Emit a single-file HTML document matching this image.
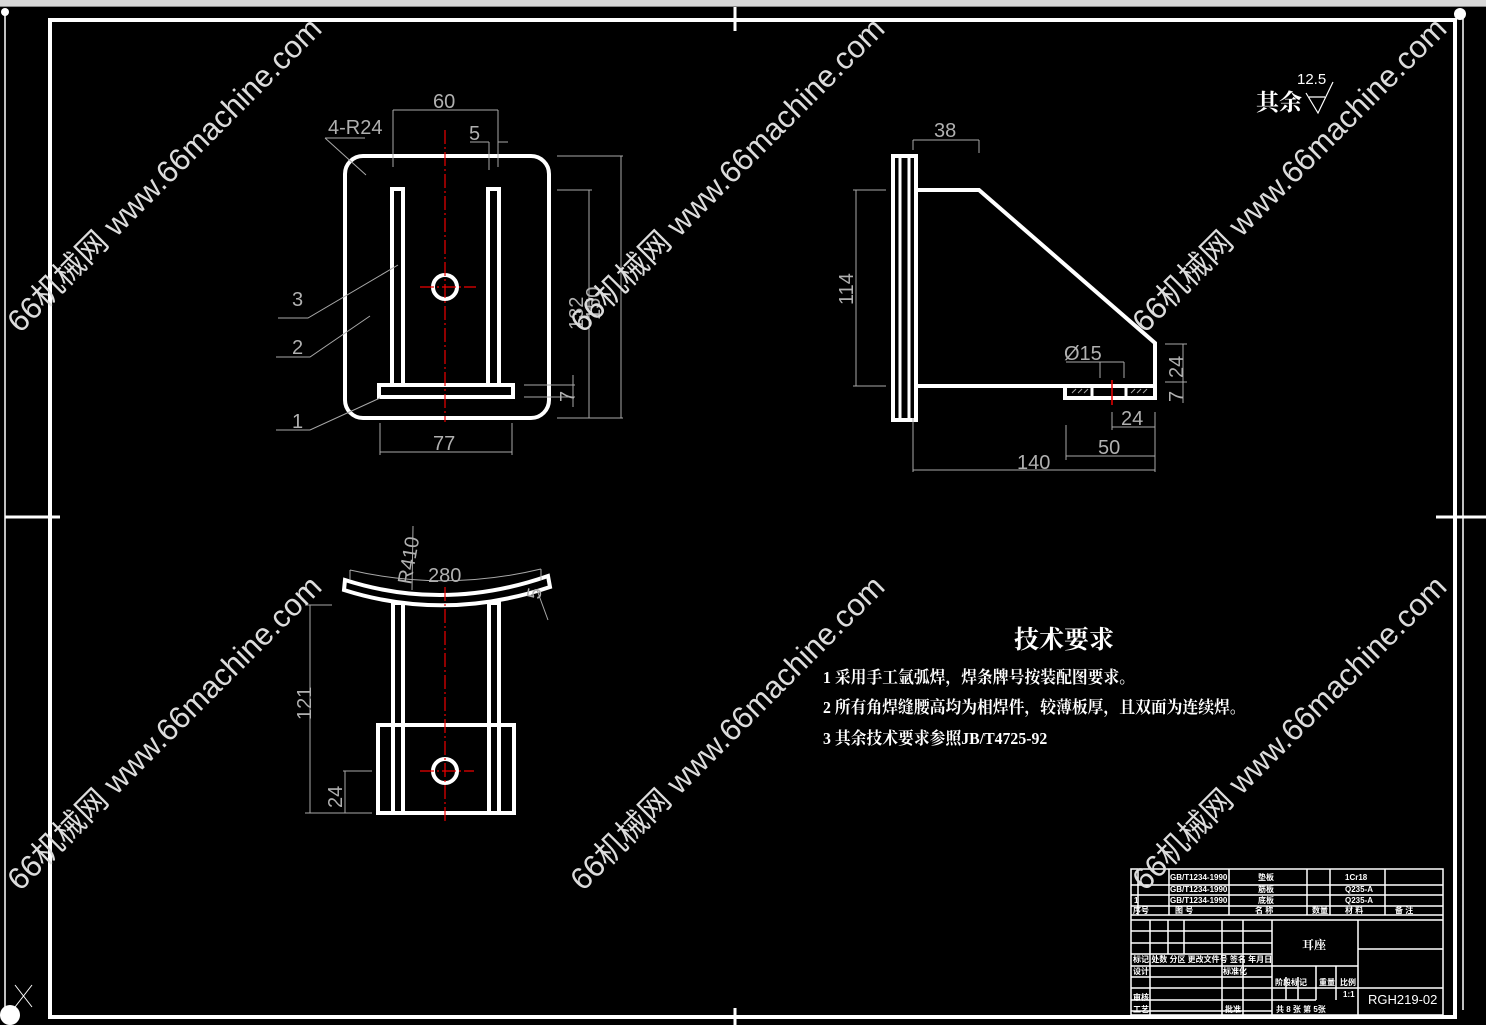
<!DOCTYPE html>
<html><head><meta charset="utf-8"><style>
html,body{margin:0;padding:0;background:#000;width:1486px;height:1025px;overflow:hidden}
svg{display:block}
.d{stroke:#a8a8a8;stroke-width:1;fill:none}
.t{fill:#b0b0b0;font-family:"Liberation Sans",sans-serif;font-size:20px}
.w{stroke:#fff;stroke-width:4;fill:none}
.r{stroke:#e00;stroke-width:1.2;fill:none;stroke-dasharray:14 3 2 3}
.wm{fill:#dcdcdc;font-family:"Liberation Sans","Noto Sans CJK SC",sans-serif;font-size:31px}
.tb{stroke:#fff;stroke-width:1.5;fill:none}
.tt{fill:#fff;font-family:"Liberation Sans","Noto Sans CJK SC",sans-serif;font-size:8px;font-weight:bold}
.cn{fill:#fff;font-family:"Liberation Serif","Noto Serif CJK SC",serif;font-weight:bold}
</style></head><body>
<svg width="1486" height="1025" viewBox="0 0 1486 1025" xmlns="http://www.w3.org/2000/svg">
<rect x="0" y="0" width="1486" height="6" fill="#d8d8d8"/>
<rect x="0" y="6" width="1486" height="1" fill="#888"/>
<line x1="5" y1="10" x2="5" y2="1010" stroke="#fff" stroke-width="1.5"/>
<line x1="1463" y1="10" x2="1463" y2="1010" stroke="#fff" stroke-width="1.5"/>
<circle cx="5" cy="12" r="4" fill="#fff"/><circle cx="1460" cy="14" r="6" fill="#fff"/>
<circle cx="10" cy="1015" r="10" fill="#fff"/>
<rect x="50" y="20" width="1405" height="997" fill="none" stroke="#fff" stroke-width="4"/>
<line x1="735" y1="7" x2="735" y2="31" stroke="#fff" stroke-width="3"/>
<line x1="735" y1="1008" x2="735" y2="1025" stroke="#fff" stroke-width="3"/>
<line x1="5" y1="517" x2="60" y2="517" stroke="#fff" stroke-width="3"/>
<line x1="1436" y1="517" x2="1486" y2="517" stroke="#fff" stroke-width="3"/>
<path d="M15 985 L32 1007 M32 985 L15 1007" stroke="#fff" stroke-width="1"/>

<!-- VIEW 1 -->
<rect x="345" y="156" width="204" height="262" rx="18" class="w"/>
<rect x="392" y="189" width="11" height="196" class="w" stroke-width="3.5"/>
<rect x="488" y="189" width="11" height="196" class="w" stroke-width="3.5"/>
<rect x="379" y="385" width="134" height="12" class="w" stroke-width="3.5"/>
<circle cx="445" cy="287" r="12" class="w"/>
<line x1="445" y1="130" x2="445" y2="422" class="r"/>
<line x1="420" y1="287" x2="476" y2="287" class="r"/>
<path class="d" d="M393 110 L498 110 M393 110 L393 167 M498 110 L498 167 M489 142 L489 170 M498 142 L508 142 M470 142 L489 142"/>
<text class="t" x="433" y="108">60</text>
<text class="t" x="469" y="140">5</text>
<text class="t" x="328" y="134">4-R24</text>
<path class="d" d="M325 138 L365 138 M325 138 L366 175"/>
<path class="d" d="M557 156 L623 156 M621 156 L621 418 M557 190 L592 190 M589 190 L589 418 M557 418 L623 418 M524 385 L575 385 M524 397 L575 397 M573 375 L573 407"/>
<text class="t" transform="translate(583 330) rotate(-90)">132</text>
<text class="t" transform="translate(600 320) rotate(-90)">150</text>
<text class="t" transform="translate(574 402) rotate(-90)" font-size="14">7</text>
<path class="d" d="M380 423 L380 455 M512 423 L512 455 M380 452 L512 452"/>
<text class="t" x="433" y="450">77</text>
<path class="d" d="M278 318 L308 318 L398 265 M276 357 L310 357 L370 316 M276 430 L310 430 L380 398"/>
<text class="t" x="292" y="306">3</text><text class="t" x="292" y="354">2</text><text class="t" x="292" y="428">1</text>

<!-- VIEW 2 -->
<rect x="893" y="156" width="23" height="264" class="w"/>
<line x1="900" y1="158" x2="900" y2="418" stroke="#fff" stroke-width="3"/>
<line x1="909" y1="158" x2="909" y2="418" stroke="#fff" stroke-width="3"/>
<path class="w" d="M916 190 L979 190 L1155 343 L1155 386 L916 386 Z"/>
<path class="w" d="M1065 386 L1065 398 L1155 398 L1155 386"/>
<rect x="1069" y="388" width="20" height="6" fill="#000"/>
<rect x="1095" y="388" width="28" height="6" fill="#000"/>
<rect x="1128" y="388" width="23" height="6" fill="#000"/>
<line x1="1092" y1="386" x2="1092" y2="398" stroke="#fff" stroke-width="3"/>
<line x1="1126" y1="386" x2="1126" y2="398" stroke="#fff" stroke-width="3"/>
<path d="M1072 393 l4-4 M1078 393 l4-4 M1084 393 l4-4 M1131 393 l4-4 M1137 393 l4-4 M1143 393 l4-4" stroke="#aaa" stroke-width="1"/>
<line x1="1112" y1="380" x2="1112" y2="405" stroke="#e00" stroke-width="1.5"/>
<path class="d" d="M913 140 L979 140 M979 140 L979 153 M913 140 L913 150"/>
<text class="t" x="934" y="137">38</text>
<path class="d" d="M853 190 L886 190 M853 386 L886 386 M856 190 L856 386"/>
<text class="t" transform="translate(853 305) rotate(-90)">114</text>
<path class="d" d="M1066 362 L1124 362 M1100 362 L1100 378 M1124 362 L1124 378"/>
<text class="t" x="1064" y="360">Ø15</text>
<path class="d" d="M1165 344 L1187 344 M1165 382 L1187 382 M1183 344 L1183 383 M1183 383 L1183 403"/>
<text class="t" transform="translate(1183 378) rotate(-90)">24</text>
<text class="t" transform="translate(1183 402) rotate(-90)" font-size="14">7</text>
<path class="d" d="M913 418 L913 472 M1155 412 L1155 472 M1066 425 L1066 460 M1112 412 L1112 430 M1112 427 L1155 427 M1066 456 L1155 456 M913 470 L1155 470"/>
<text class="t" x="1121" y="425">24</text>
<text class="t" x="1098" y="454">50</text>
<text class="t" x="1017" y="469">140</text>

<!-- VIEW 3 -->
<path class="w" d="M345 580 Q445 612 548 576 L550 587 Q445 622 344 590 Z"/>
<rect x="393" y="603" width="10" height="210" class="w" stroke-width="3.5"/>
<rect x="489" y="603" width="10" height="210" class="w" stroke-width="3.5"/>
<rect x="378" y="725" width="136" height="88" class="w"/>
<circle cx="445" cy="771" r="12" class="w"/>
<line x1="445" y1="587" x2="445" y2="822" class="r"/>
<line x1="420" y1="771" x2="474" y2="771" class="r"/>
<path class="d" d="M350 570 Q445 592 541 569 M350 570 L350 580 M541 569 L541 580 M413 526 L412 590 M537 590 L548 620"/>
<text class="t" x="428" y="582">280</text>
<text class="t" transform="translate(411 585) rotate(-80)">R410</text>
<text class="t" transform="translate(540 600) rotate(-80)" font-size="16">5</text>
<path class="d" d="M305 605 L332 605 M310 605 L310 813 M305 813 L372 813 M343 771 L372 771 M345 771 L345 813"/>
<text class="t" transform="translate(311 720) rotate(-90)">121</text>
<text class="t" transform="translate(342 808) rotate(-90)">24</text>

<!-- roughness -->
<text class="cn" x="1256" y="110" font-size="23" font-weight="normal">其余</text>
<text x="1297" y="84" fill="#fff" font-family="Liberation Sans,sans-serif" font-size="15">12.5</text>
<path d="M1306 93 L1318 113 L1333 82 M1309 97 L1325 97" stroke="#fff" stroke-width="1.2" fill="none"/>

<!-- tech requirements -->
<text class="cn" x="1014" y="648" font-size="25" font-weight="normal">技术要求</text>
<g transform="translate(823 0) scale(0.93 1)">
<text class="cn" x="0" y="683" font-size="17">1 采用手工氩弧焊，焊条牌号按装配图要求。</text>
<text class="cn" x="0" y="713" font-size="17">2 所有角焊缝腰高均为相焊件，较薄板厚，且双面为连续焊。</text>
<text class="cn" x="0" y="744" font-size="17">3 其余技术要求参照JB/T4725-92</text>
</g>

<!-- title block -->
<rect x="1131" y="869" width="312" height="146" class="tb" stroke-width="2.5"/>
<path class="tb" d="M1131 885 H1443 M1131 895 H1443 M1131 906 H1443 M1131 915 H1443 M1138 869 V915 M1169 869 V915 M1229 869 V915 M1307 869 V915 M1330 869 V915 M1385 869 V915"/>
<path class="tb" d="M1131 920 H1443 M1131 931 H1272 M1131 943 H1272 M1131 954 H1272 M1131 966 H1358 M1131 977 H1272 M1131 988 H1443 M1131 1000 H1316 M1131 1011 H1272 M1150 920 V1015 M1168 920 V954 M1184 920 V954 M1222 920 V1015 M1243 920 V1015 M1272 920 V1015 M1358 920 V1015 M1358 949 H1443 M1316 966 V1000 M1336 966 V1000 M1286 977 V1000 M1298 977 V1000"/>
<text class="tt" x="1170" y="880">GB/T1234-1990</text><text class="tt" x="1258" y="880">垫板</text><text class="tt" x="1345" y="880">1Cr18</text>
<text class="tt" x="1170" y="892">GB/T1234-1990</text><text class="tt" x="1258" y="892">筋板</text><text class="tt" x="1345" y="892">Q235-A</text>
<text class="tt" x="1134" y="903">1</text><text class="tt" x="1170" y="903">GB/T1234-1990</text><text class="tt" x="1258" y="903">底板</text><text class="tt" x="1345" y="903">Q235-A</text>
<text class="tt" x="1133" y="913">序号</text><text class="tt" x="1175" y="913">图 号</text><text class="tt" x="1255" y="913">名 称</text><text class="tt" x="1312" y="913">数量</text><text class="tt" x="1345" y="913">材 料</text><text class="tt" x="1395" y="913">备 注</text>
<text class="cn" x="1302" y="949" font-size="12" font-weight="normal">耳座</text>
<text class="tt" x="1133" y="962">标记 处数 分区 更改文件号 签名 年月日</text>
<text class="tt" x="1133" y="974">设计</text><text class="tt" x="1223" y="974">标准化</text>
<text class="tt" x="1275" y="985">阶段标记</text><text class="tt" x="1319" y="985">重量</text><text class="tt" x="1340" y="985">比例</text>
<text class="tt" x="1343" y="997">1:1</text>
<text class="tt" x="1133" y="1000">审核</text><text class="tt" x="1133" y="1012">工艺</text><text class="tt" x="1225" y="1012">批准</text>
<text class="tt" x="1276" y="1012">共 8 张 第 5张</text>
<text x="1368" y="1004" fill="#fff" font-family="Liberation Sans,sans-serif" font-size="13">RGH219-02</text>

<!-- watermarks -->
<g class="wm">
<text transform="translate(20 334) rotate(-45)">66机械网 www.66machine.com</text>
<text transform="translate(583 334) rotate(-45)">66机械网 www.66machine.com</text>
<text transform="translate(1145 334) rotate(-45)">66机械网 www.66machine.com</text>
<text transform="translate(20 892) rotate(-45)">66机械网 www.66machine.com</text>
<text transform="translate(583 892) rotate(-45)">66机械网 www.66machine.com</text>
<text transform="translate(1145 892) rotate(-45)">66机械网 www.66machine.com</text>
</g>
</svg>
</body></html>
